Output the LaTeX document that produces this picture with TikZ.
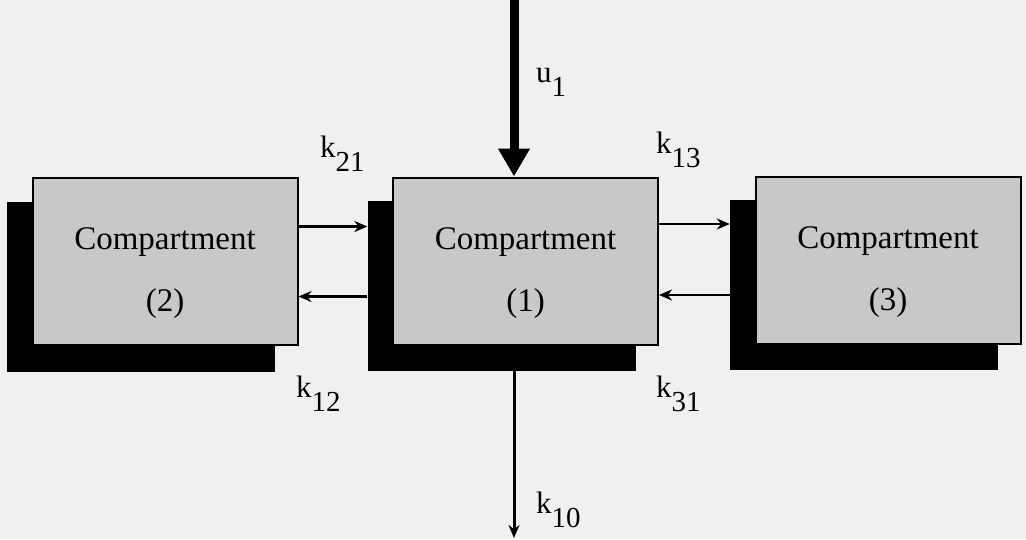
\documentclass[tikz,border=0pt]{standalone}
\usepackage{fontspec}
\setmainfont{Liberation Serif}
\usetikzlibrary{arrows.meta,calc}
\definecolor{paper}{RGB}{240,240,238}
\definecolor{boxgray}{RGB}{200,200,198}
\newcommand\klab[2]{#1\raisebox{-14pt}{\fontsize{29}{29}\selectfont #2}}
\tikzset{
  front/.style={draw=black, line width=2pt, fill=boxgray, minimum width=265pt, minimum height=167pt, inner sep=0pt},
  boxtext/.style={anchor=base, inner sep=0pt, font=\fontsize{33}{33}\selectfont},
  shadowbox/.style={fill=black, minimum width=268pt, minimum height=170pt, inner sep=0pt},
  flow/.style={line width=2.5pt, -{Stealth[length=13pt,width=11pt]}},
  klabel/.style={anchor=base west, inner sep=0pt, font=\fontsize{31}{31}\selectfont},
}
\begin{document}
\begin{tikzpicture}[x=1pt,y=-1pt]
\fill[paper] (0,0) rectangle (1026,539);
\useasboundingbox (0,0) rectangle (1026,539);
% shadows
\node[shadowbox] (s2) at (141,287) {};
\node[shadowbox] (s1) at (501.5,286) {};
\node[shadowbox] (s3) at (864,285) {};
% front boxes
\node[front] (f2) at (165,261.5) {};
\node[front] (f1) at (525.5,261) {};
\node[front] (f3) at (888,260.5) {};
\node[boxtext] (t2a) at ([yshift=12pt]f2.center) {Compartment};
\node[boxtext] (t2b) at ([yshift=-50pt]f2.center) {(2)};
\node[boxtext] (t1a) at ([yshift=12pt]f1.center) {Compartment};
\node[boxtext] (t1b) at ([yshift=-50pt]f1.center) {(1)};
\node[boxtext] (t3a) at ([yshift=12pt]f3.center) {Compartment};
\node[boxtext] (t3b) at ([yshift=-50pt]f3.center) {(3)};
% input / output
\coordinate (in) at (514,0);
\coordinate (out) at (514,538);
\draw[line width=9pt, -{Triangle[length=28pt,width=30pt]}] (in) -- (in |- f1.north);
\draw[line width=3pt, -{Stealth[length=13pt,width=11pt]}] (s1.south -| out) -- (out);
% exchanges
\draw[flow] ([yshift=35pt]f2.east) -- ([yshift=35pt]f2.east -| s1.west);
\draw[flow] ([yshift=-35pt]f2.east -| s1.west) -- ([yshift=-35pt]f2.east);
\draw[flow] ([yshift=37pt]f1.east) -- ([yshift=37pt]f1.east -| s3.west);
\draw[flow] ([yshift=-34pt]f1.east -| s3.west) -- ([yshift=-34pt]f1.east);
% labels
\node[klabel] (u1) at (536,82) {\klab{u}{1}};
\node[klabel] (k21) at (320,157) {\klab{k}{21}};
\node[klabel] (k13) at (656,153) {\klab{k}{13}};
\node[klabel] (k12) at (296,397) {\klab{k}{12}};
\node[klabel] (k31) at (656,397) {\klab{k}{31}};
\node[klabel] (k10) at (536,513) {\klab{k}{10}};
\end{tikzpicture}
\end{document}
